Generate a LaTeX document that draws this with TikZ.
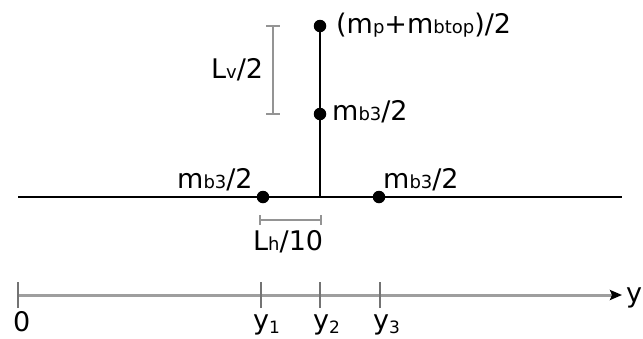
\documentclass[tikz,border=0pt]{standalone}
\usepackage{fontspec}
\setmainfont{DejaVu Sans}
\usetikzlibrary{arrows.meta}
\newcommand{\sbs}[1]{{\fontsize{18}{20}\selectfont #1}}
\newcommand{\ysb}[1]{\raisebox{-4pt}{\fontsize{17}{20}\selectfont #1}}
\begin{document}
\begin{tikzpicture}[x=1pt,y=-1pt,
  lbl/.style={inner sep=0pt,anchor=base west,font=\fontsize{27}{32}\selectfont},
  massdot/.style={circle,fill=black,inner sep=0pt,minimum size=12.5pt},
  beam/.style={line width=2.4pt,black},
  dim/.style={line width=1.8pt,color=black!42},
  axisline/.style={line width=3pt,color=black!38},
  tick/.style={line width=1.3pt,color=black!55}]
\useasboundingbox (0,0) rectangle (643,338);
% beam structure
\coordinate (BL) at (18,197);
\coordinate (BR) at (622,197);
\coordinate (J) at (320,197);
\draw[beam] (BL) -- (BR);
\node[massdot] (top) at (320,26) {};
\draw[beam] (top.center) -- (J);
\node[massdot] (mid) at (320,114) {};
\node[massdot] (left) at (263,197) {};
\node[massdot] (right) at (379,197) {};
% labels
\node[lbl] (ltop) at (336,33) {(m\sbs{p}+m\sbs{btop})/2};
\node[lbl] (lmid) at (332,120) {m\sbs{b3}/2};
\node[lbl] (lleft) at (177,188) {m\sbs{b3}/2};
\node[lbl] (lright) at (383,188) {m\sbs{b3}/2};
% Lv/2 dimension
\coordinate (V1) at (273,26);
\coordinate (V2) at (273,114);
\draw[dim] (V1) -- (V2);
\draw[dim] ([xshift=-7pt]V1) -- ([xshift=7pt]V1);
\draw[dim] ([xshift=-7pt]V2) -- ([xshift=7pt]V2);
\node[lbl] (lv) at (211,78) {L\sbs{v}/2};
% Lh/10 dimension
\coordinate (H1) at (260,220);
\coordinate (H2) at (321,220);
\draw[dim] (H1) -- (H2);
\draw[dim] ([yshift=-5pt]H1) -- ([yshift=5pt]H1);
\draw[dim] ([yshift=-5pt]H2) -- ([yshift=5pt]H2);
\node[lbl] (lh) at (253,250) {L\sbs{h}/10};
% axis
\coordinate (A0) at (18,295);
\coordinate (AE) at (622,295);
\draw[axisline,-{Stealth[length=12pt,width=10pt,inset=2pt,color=black]}] (A0) -- (AE);
\foreach \n/\x in {t0/18,t1/261,t2/320,t3/380}{
  \coordinate (\n) at (\x,295);
  \draw[tick] ([yshift=-13pt]\n) -- ([yshift=13pt]\n);
}
\node[lbl] (l0) at (13,331) {0};
\node[lbl] (l1) at (253,329) {y\ysb{1}};
\node[lbl] (l2) at (313,329) {y\ysb{2}};
\node[lbl] (l3) at (373,329) {y\ysb{3}};
\node[lbl] (ly) at (626,302) {y};
\end{tikzpicture}
\end{document}
